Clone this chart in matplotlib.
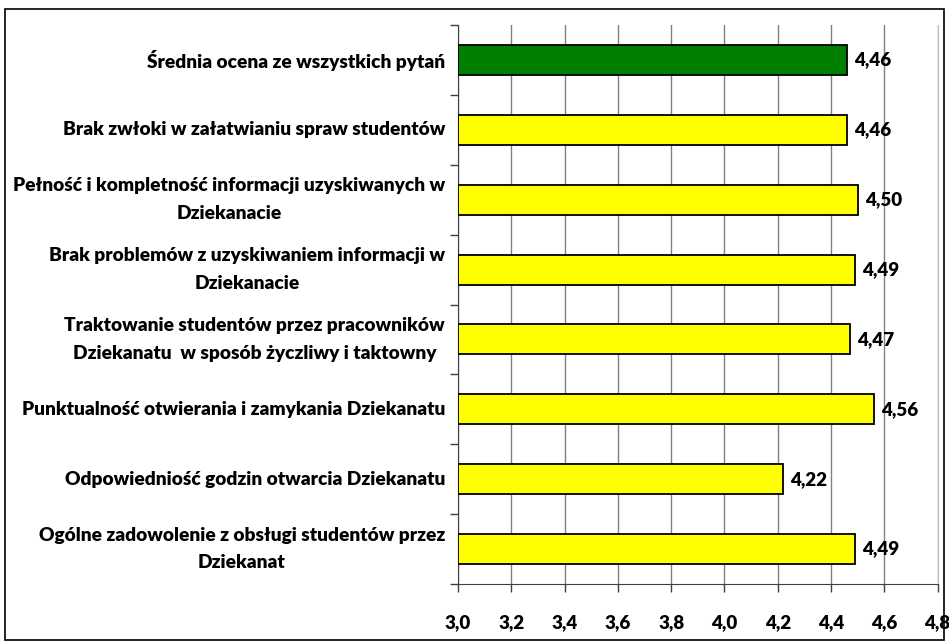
import numpy as np
import matplotlib.pyplot as plt
from matplotlib.patches import Rectangle
from matplotlib.transforms import offset_copy

plt.rcParams['font.family'] = ['Lato', 'DejaVu Sans']

# Data (top to bottom)
labels = [
    'Średnia ocena ze wszystkich pytań',
    'Brak zwłoki w załatwianiu spraw studentów',
    'Pełność i kompletność informacji uzyskiwanych w\nDziekanacie',
    'Brak problemów z uzyskiwaniem informacji w\nDziekanacie',
    'Traktowanie studentów przez pracowników\nDziekanatu  w sposób życzliwy i taktowny',
    'Punktualność otwierania i zamykania Dziekanatu',
    'Odpowiedniość godzin otwarcia Dziekanatu',
    'Ogólne zadowolenie z obsługi studentów przez\nDziekanat',
]
values = [4.46, 4.46, 4.50, 4.49, 4.47, 4.56, 4.22, 4.49]
colors = ['#008000'] + ['#FFFF00'] * 7
xticks = [3.0, 3.2, 3.4, 3.6, 3.8, 4.0, 4.2, 4.4, 4.6, 4.8]

FS = 13.5
W = 800

fig = plt.figure(figsize=(9.49, 6.43), dpi=100)
ax = fig.add_axes([0.4826, 0.0918, 0.5054, 0.8692])

n = len(values)
ypos = np.arange(n)[::-1]
ax.barh(ypos, [v - 3.0 for v in values], left=3.0, height=0.43,
        color=colors, edgecolor='black', linewidth=1.3, zorder=3)

val_tr = offset_copy(ax.transData, fig=fig, x=7, y=0, units='dots')
for y, v in zip(ypos, values):
    ax.text(v, y, f'{v:.2f}'.replace('.', ','), transform=val_tr, va='center', ha='left',
            fontsize=FS, fontweight=W, zorder=4)

ax.set_xlim(3.0, 4.8)
ax.set_ylim(-0.5, n - 0.5)
ax.set_xticks(xticks)
ax.set_xticklabels([f'{t:.1f}'.replace('.', ',') for t in xticks],
                   fontsize=FS, fontweight=W)
ax.tick_params(axis='x', direction='out', length=6, width=1, color='#404040', pad=16)

# category labels, ticks at boundaries
ax.set_yticks(np.arange(n + 1) - 0.5)
ax.set_yticklabels([])
ax.tick_params(axis='y', direction='out', length=6, width=1, color='#404040')
lab_tr = offset_copy(ax.get_yaxis_transform(), fig=fig, x=-13, y=0, units='dots')
for y, lab in zip(ypos, labels):
    ax.text(0, y, lab, transform=lab_tr, ha='right', va='center',
            multialignment='center', fontsize=13.8, fontweight=W, linespacing=1.75)

ax.grid(axis='x', color='#808080', linewidth=1, zorder=0)
ax.spines['top'].set_visible(False)
ax.spines['right'].set_color('#c0c0c0')
ax.spines['left'].set_color('#404040')
ax.spines['bottom'].set_color('#404040')

fig.patches.append(Rectangle((0.005, 0.004), 0.99, 0.982, transform=fig.transFigure,
                             fill=False, edgecolor='black', linewidth=1.2))

fig.savefig('out.png', dpi=100)
